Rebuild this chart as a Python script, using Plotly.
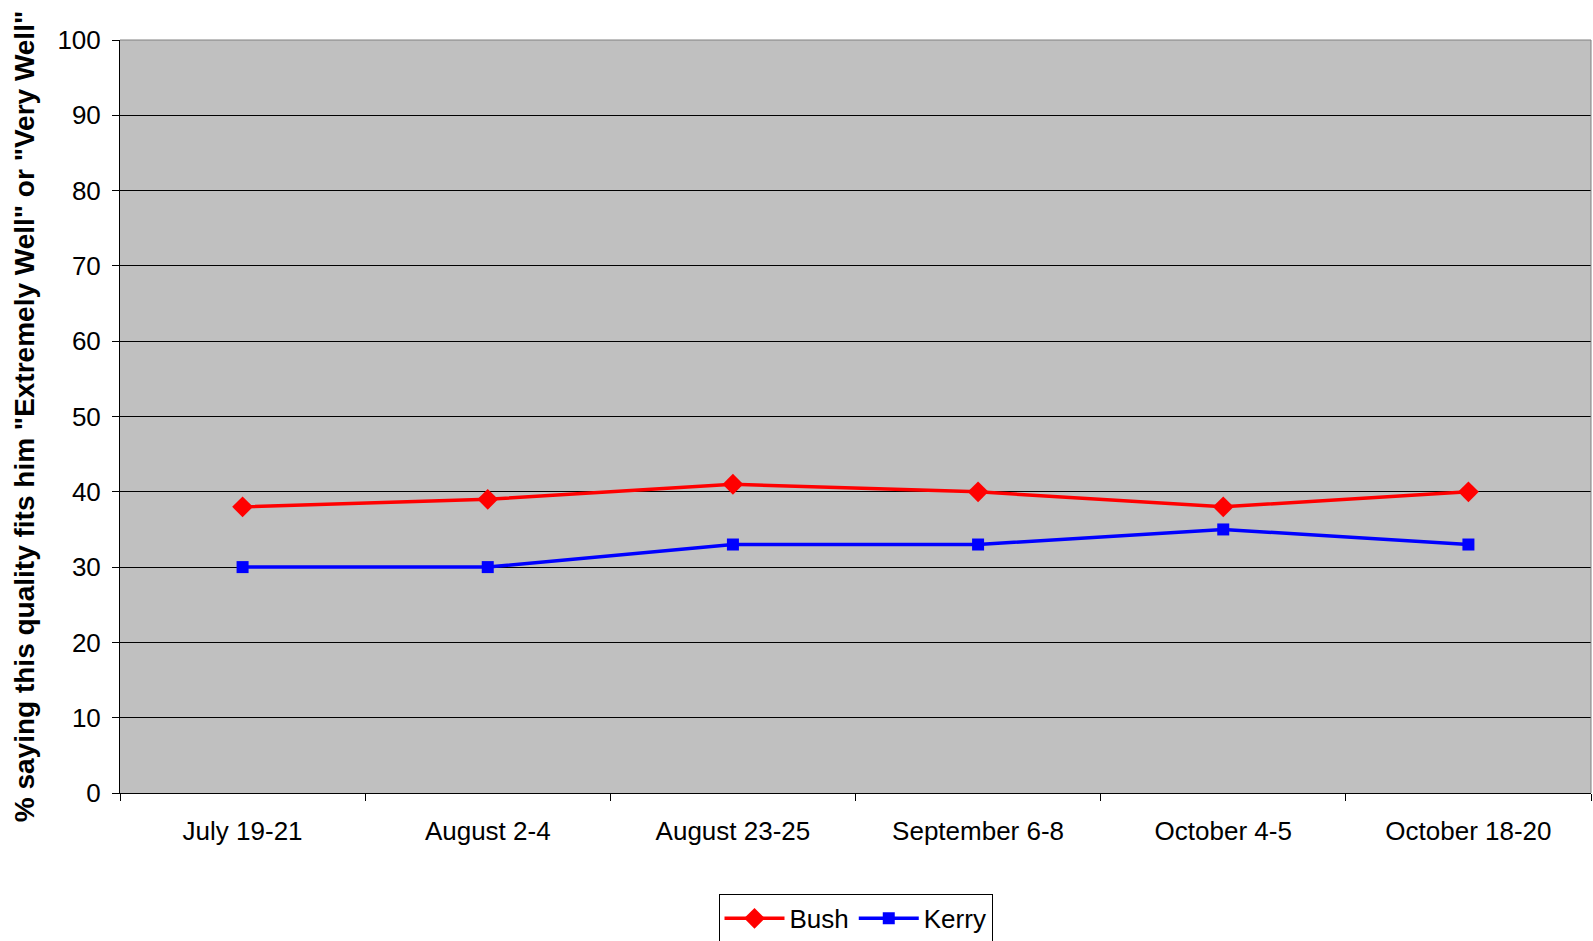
import plotly.graph_objects as go

categories = ["July 19-21", "August 2-4", "August 23-25", "September 6-8", "October 4-5", "October 18-20"]
bush = [38, 39, 41, 40, 38, 40]
kerry = [30, 30, 33, 33, 35, 33]
y_ticks = list(range(0, 101, 10))

fig = go.Figure()
fig.add_trace(go.Scatter(
    x=categories, y=bush, name="Bush", mode="lines+markers",
    line=dict(color="#FF0000", width=3.5),
    marker=dict(symbol="diamond", size=16, color="#FF0000"),
))
fig.add_trace(go.Scatter(
    x=categories, y=kerry, name="Kerry", mode="lines+markers",
    line=dict(color="#0000FF", width=3.5),
    marker=dict(symbol="square", size=12, color="#0000FF"),
))

font_family = "Liberation Sans, Arial, sans-serif"

fig.update_layout(
    width=1593, height=941,
    margin=dict(l=120, r=2, t=40, b=148, autoexpand=False),
    paper_bgcolor="white",
    plot_bgcolor="#C0C0C0",
    font=dict(family=font_family, size=26, color="black"),
    showlegend=True,
    legend=dict(
        orientation="h", x=0.5, xanchor="center", xref="paper",
        yref="container", y=0.05, yanchor="top",
        bordercolor="black", borderwidth=1, bgcolor="white",
        font=dict(size=26), itemwidth=60, tracegroupgap=0,
    ),
    xaxis=dict(
        type="category", range=[-0.5, 5.5], tickson="boundaries", ticks="outside", ticklen=7,
        tickcolor="black", showline=True, linecolor="black", linewidth=1,
        showgrid=False, ticklabelstandoff=15,
        tickfont=dict(size=26),
    ),
    yaxis=dict(
        range=[0, 100], tickvals=y_ticks, ticks="outside", ticklen=7,
        tickcolor="black", showline=True, linecolor="black", linewidth=1,
        showgrid=True, gridcolor="#000000", gridwidth=1, zeroline=False,
        ticklabelstandoff=6,
        tickfont=dict(size=26),
        title=dict(
            text='% saying this quality fits him "Extremely Well" or "Very Well"',
            font=dict(family="Liberation Sans Narrow, Liberation Sans, Arial, sans-serif", size=28, color="black", weight="bold"),
            standoff=14,
        ),
    ),
    shapes=[
        dict(type="line", xref="paper", yref="paper", x0=0, x1=1, y0=1, y1=1,
             line=dict(color="#808080", width=1), layer="above"),
        dict(type="line", xref="paper", yref="paper", x0=1, x1=1, y0=0, y1=1,
             line=dict(color="#808080", width=1), layer="above"),
    ],
)

post = (
    "document.body.style.margin='0';"
    "document.body.style.overflow='hidden';"
    "Plotly.relayout('{plot_id}', {width: 1593, height: 941});"
)

fig.write_html("out.html", post_script=post, config={"displayModeBar": False})
